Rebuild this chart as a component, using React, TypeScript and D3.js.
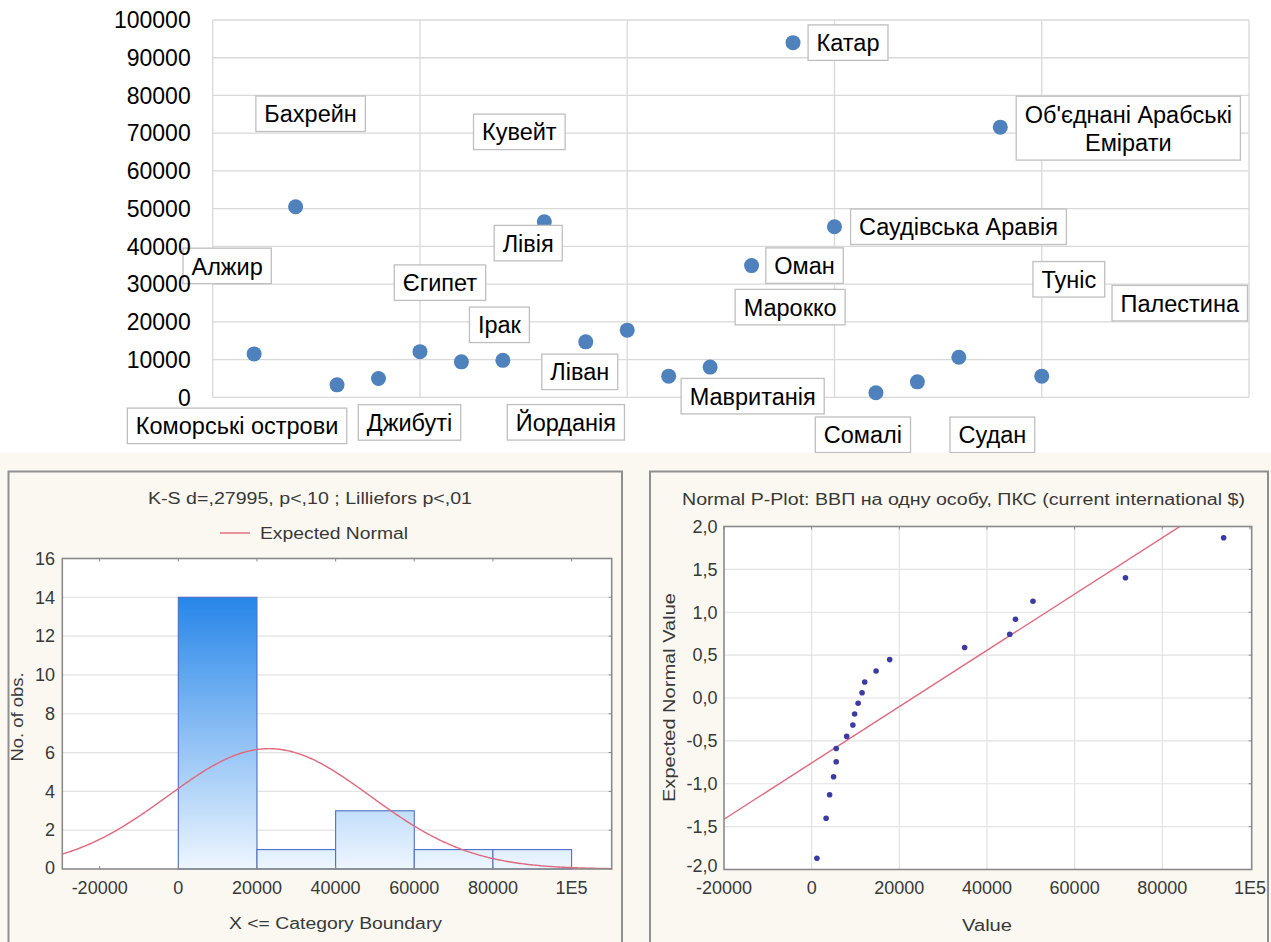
import React, { useEffect, useRef } from "react";
import * as d3 from "d3";

// ---------- DATA ----------
const countries = [
  "Алжир", "Бахрейн", "Коморські острови", "Джибуті", "Єгипет", "Ірак", "Йорданія",
  "Кувейт", "Ліван", "Лівія", "Мавританія", "Марокко", "Оман", "Катар",
  "Саудівська Аравія", "Сомалі", "Судан", "Туніс", "Об'єднані Арабські\nЕмірати", "Палестина",
];
const gdpPerCapita = [
  11500, 50500, 3300, 5000, 12100, 9400, 9800, 46500, 14700, 17800,
  5600, 8000, 34900, 94000, 45200, 1200, 4100, 10600, 71600, 5600,
];
const topYTicks = [0, 10000, 20000, 30000, 40000, 50000, 60000, 70000, 80000, 90000, 100000];
const topXGrid = [0, 5, 10, 15, 20, 25];

const histEdges = [0, 20000, 40000, 60000, 80000, 100000];
const histXTicks = [-20000, 0, 20000, 40000, 60000, 80000, 100000];
const xTickLabels = ["-20000", "0", "20000", "40000", "60000", "80000", "1E5"];
const histYTicks = [0, 2, 4, 6, 8, 10, 12, 14, 16];

const ppYTicks = [-2, -1.5, -1, -0.5, 0, 0.5, 1, 1.5, 2];
const ppYTickLabels = ["-2,0", "-1,5", "-1,0", "-0,5", "0,0", "0,5", "1,0", "1,5", "2,0"];
const expectedNormal = [
  -1.868, -1.403, -1.128, -0.919, -0.744, -0.589, -0.448, -0.315, -0.187, -0.062,
  0.062, 0.187, 0.315, 0.448, 0.589, 0.744, 0.919, 1.128, 1.403, 1.868,
];

// label box centre offsets from their point (px), as dragged in the original
const labelOffsets: [number, number][] = [
  [-27, -88], [15, -93], [-100, 41], [31, 44], [20, -69], [38, -37], [63, 62],
  [-25, -90], [-6, 30], [-99, -87], [84, 20], [80, -60], [53, 0], [55, 0],
  [124, 0], [-13, 42], [75, 53], [110, -78], [128, 1], [138, -73],
];

const FONT = "'Liberation Sans', Arial, Helvetica, sans-serif";
const STAT_TXT = "#383838";

export default function App() {
  const ref = useRef<SVGSVGElement>(null);

  useEffect(() => {
    const svg = d3.select(ref.current!);
    svg.selectAll("*").remove();

    // ================= TOP SCATTER =================
    const xT = d3.scaleLinear().domain([0, 25]).range([212.7, 1249]);
    const yT = d3.scaleLinear().domain([0, 100000]).range([397.3, 20]);
    const gTop = svg.append("g");

    gTop.selectAll("line.h").data(topYTicks).join("line")
      .attr("x1", xT(0)).attr("x2", xT(25))
      .attr("y1", (d) => yT(d)).attr("y2", (d) => yT(d))
      .attr("stroke", "#d9d9d9").attr("stroke-width", 1.3);
    gTop.selectAll("line.v").data(topXGrid).join("line")
      .attr("x1", (d) => xT(d)).attr("x2", (d) => xT(d))
      .attr("y1", yT(0)).attr("y2", yT(100000))
      .attr("stroke", "#d9d9d9").attr("stroke-width", 1.3);

    gTop.append("g").selectAll("circle").data(gdpPerCapita).join("circle")
      .attr("cx", (_d, i) => xT(i + 1)).attr("cy", (d) => yT(d))
      .attr("r", 7.5).attr("fill", "#4f81bd");

    countries.forEach((name, i) => {
      const [dx, dy] = labelOffsets[i];
      const cx = xT(i + 1) + dx;
      const cy = yT(gdpPerCapita[i]) + dy;
      const lines = name.split("\n");
      const g = gTop.append("g");
      const rect = g.append("rect");
      const texts = lines.map((ln, k) =>
        g.append("text")
          .attr("x", cx)
          .attr("y", cy + 8.6 - ((lines.length - 1) * 28.4) / 2 + k * 28.4)
          .attr("text-anchor", "middle")
          .attr("font-family", FONT).attr("font-size", 23.5).attr("fill", "#000")
          .text(ln)
      );
      const w = d3.max(texts, (t) => (t.node() as SVGTextElement).getComputedTextLength()) || 0;
      const h = 35.5 + (lines.length - 1) * 28.4;
      rect.attr("x", cx - w / 2 - 8.5).attr("y", cy - h / 2)
        .attr("width", w + 17).attr("height", h)
        .attr("fill", "#fff").attr("stroke", "#bfbfbf").attr("stroke-width", 1.3);
    });

    gTop.append("g").selectAll("text").data(topYTicks).join("text")
      .attr("x", 190.7).attr("y", (d) => yT(d) + 8.3)
      .attr("text-anchor", "end")
      .attr("font-family", FONT).attr("font-size", 23).attr("fill", "#000")
      .text((d) => String(d));

    // ================= BOTTOM BACKGROUND =================
    svg.append("rect").attr("x", 0).attr("y", 453).attr("width", 1271).attr("height", 489)
      .attr("fill", "#fbf8f2");

    const defs = svg.append("defs");

    // ================= HISTOGRAM =================
    const xH = d3.scaleLinear().domain([-29500, 110200]).range([62.3, 611.7]);
    const yH = d3.scaleLinear().domain([0, 16]).range([869, 558.5]);
    const gH = svg.append("g");

    gH.append("rect").attr("x", 8.5).attr("y", 471.5).attr("width", 613.5).attr("height", 490)
      .attr("fill", "#fbf8f2").attr("stroke", "#8f8f8f").attr("stroke-width", 2);

    gH.append("rect").attr("x", xH.range()[0]).attr("y", yH(16))
      .attr("width", xH.range()[1] - xH.range()[0]).attr("height", yH(0) - yH(16))
      .attr("fill", "#fff");

    gH.selectAll("line.hg").data(histYTicks.slice(1, -1)).join("line")
      .attr("x1", xH.range()[0]).attr("x2", xH.range()[1])
      .attr("y1", (d) => yH(d)).attr("y2", (d) => yH(d))
      .attr("stroke", "#e2e2e2").attr("stroke-width", 1.2);

    const grad = defs.append("linearGradient").attr("id", "barGrad")
      .attr("gradientUnits", "userSpaceOnUse")
      .attr("x1", 0).attr("x2", 0).attr("y1", yH(16)).attr("y2", yH(0));
    grad.append("stop").attr("offset", "0%").attr("stop-color", "#0a76e6");
    grad.append("stop").attr("offset", "100%").attr("stop-color", "#eef6ff");

    const bins = d3.bin<number, number>()
      .domain([histEdges[0], histEdges[histEdges.length - 1]])
      .thresholds(histEdges.slice(1, -1))(gdpPerCapita);

    gH.selectAll("rect.bar").data(bins).join("rect")
      .attr("x", (b) => xH(b.x0!)).attr("width", (b) => xH(b.x1!) - xH(b.x0!))
      .attr("y", (b) => yH(b.length)).attr("height", (b) => yH(0) - yH(b.length))
      .attr("fill", "url(#barGrad)").attr("stroke", "#4d6fc6").attr("stroke-width", 1.1);

    const mean = d3.mean(gdpPerCapita)!;
    const sd = d3.deviation(gdpPerCapita)!;
    const binW = histEdges[1] - histEdges[0];
    const nObs = gdpPerCapita.length;
    const dens = (x: number) =>
      (nObs * binW) / (sd * Math.sqrt(2 * Math.PI)) * Math.exp(-0.5 * ((x - mean) / sd) ** 2);
    const [hx0, hx1] = xH.domain();
    const curveXs = d3.range(hx0, hx1 + 1, 400);
    defs.append("clipPath").attr("id", "clipH").append("rect")
      .attr("x", xH.range()[0]).attr("y", yH(16))
      .attr("width", xH.range()[1] - xH.range()[0]).attr("height", yH(0) - yH(16));
    gH.append("path").datum(curveXs)
      .attr("clip-path", "url(#clipH)")
      .attr("d", d3.line<number>().x((d) => xH(d)).y((d) => yH(dens(d))).curve(d3.curveLinear))
      .attr("fill", "none").attr("stroke", "#e0687c").attr("stroke-width", 1.4);

    gH.append("rect").attr("x", xH.range()[0]).attr("y", yH(16))
      .attr("width", xH.range()[1] - xH.range()[0]).attr("height", yH(0) - yH(16))
      .attr("fill", "none").attr("stroke", "#8a8a8a").attr("stroke-width", 1.6);

    // small inward ticks
    gH.selectAll("line.tt").data(histXTicks).join("line")
      .attr("x1", (d) => xH(d)).attr("x2", (d) => xH(d))
      .attr("y1", yH(16)).attr("y2", yH(16) + 3).attr("stroke", "#8a8a8a");
    gH.selectAll("line.bt").data(histXTicks).join("line")
      .attr("x1", (d) => xH(d)).attr("x2", (d) => xH(d))
      .attr("y1", yH(0)).attr("y2", yH(0) - 3).attr("stroke", "#8a8a8a");
    gH.selectAll("line.rt").data(histYTicks).join("line")
      .attr("x1", xH.range()[1]).attr("x2", xH.range()[1] - 3)
      .attr("y1", (d) => yH(d)).attr("y2", (d) => yH(d)).attr("stroke", "#8a8a8a");

    gH.selectAll("text.yt").data(histYTicks).join("text")
      .attr("x", 55).attr("y", (d) => yH(d) + (d === 0 ? 4.5 : 6.3)).attr("text-anchor", "end")
      .attr("font-family", FONT).attr("font-size", 18).attr("fill", STAT_TXT)
      .text((d) => String(d));
    gH.selectAll("text.xt").data(histXTicks).join("text")
      .attr("x", (d) => xH(d)).attr("y", 894).attr("text-anchor", "middle")
      .attr("font-family", FONT).attr("font-size", 18).attr("fill", STAT_TXT)
      .text((_d, i) => xTickLabels[i]);

    gH.append("text").attr("x", 310).attr("y", 503.5).attr("text-anchor", "middle")
      .attr("font-family", FONT).attr("font-size", 16).attr("fill", STAT_TXT)
      .attr("textLength", 324).attr("lengthAdjust", "spacingAndGlyphs")
      .text("K-S d=,27995, p<,10 ; Lilliefors p<,01");
    gH.append("line").attr("x1", 220).attr("x2", 250).attr("y1", 533).attr("y2", 533)
      .attr("stroke", "#e0687c").attr("stroke-width", 1.4);
    gH.append("text").attr("x", 260).attr("y", 538.5).attr("text-anchor", "start")
      .attr("font-family", FONT).attr("font-size", 16).attr("fill", STAT_TXT)
      .attr("textLength", 148).attr("lengthAdjust", "spacingAndGlyphs")
      .text("Expected Normal");
    gH.append("text").attr("x", 335.5).attr("y", 928.5).attr("text-anchor", "middle")
      .attr("font-family", FONT).attr("font-size", 16).attr("fill", STAT_TXT)
      .attr("textLength", 213).attr("lengthAdjust", "spacingAndGlyphs")
      .text("X <= Category Boundary");
    gH.append("text").attr("transform", "translate(22.5,717) rotate(-90)")
      .attr("text-anchor", "middle")
      .attr("font-family", FONT).attr("font-size", 16).attr("fill", STAT_TXT)
      .attr("textLength", 89).attr("lengthAdjust", "spacingAndGlyphs")
      .text("No. of obs.");

    // ================= NORMAL P-PLOT =================
    const xP = d3.scaleLinear().domain([-20000, 100400]).range([724, 1251.7]);
    const yP = d3.scaleLinear().domain([-2, 2]).range([869.5, 526.5]);
    const gP = svg.append("g");

    gP.append("rect").attr("x", 650).attr("y", 471.5).attr("width", 618).attr("height", 490)
      .attr("fill", "#fbf8f2").attr("stroke", "#8f8f8f").attr("stroke-width", 2);
    gP.append("rect").attr("x", xP.range()[0]).attr("y", yP(2))
      .attr("width", xP.range()[1] - xP.range()[0]).attr("height", yP(-2) - yP(2))
      .attr("fill", "#fff");

    gP.selectAll("line.hg").data(ppYTicks.slice(1, -1)).join("line")
      .attr("x1", xP.range()[0]).attr("x2", xP.range()[1])
      .attr("y1", (d) => yP(d)).attr("y2", (d) => yP(d))
      .attr("stroke", "#e2e2e2").attr("stroke-width", 1.2);
    gP.selectAll("line.vg").data(histXTicks.slice(1, -1)).join("line")
      .attr("x1", (d) => xP(d)).attr("x2", (d) => xP(d))
      .attr("y1", yP(-2)).attr("y2", yP(2))
      .attr("stroke", "#e2e2e2").attr("stroke-width", 1.2);

    const sorted = gdpPerCapita.slice().sort(d3.ascending);
    const mx = d3.mean(sorted)!;
    const mz = d3.mean(expectedNormal)!;
    const sxz = d3.sum(sorted, (x, i) => (x - mx) * (expectedNormal[i] - mz));
    const sxx = d3.sum(sorted, (x) => (x - mx) ** 2);
    const slope = sxz / sxx;
    const lineZ = (x: number) => mz + slope * (x - mx);

    defs.append("clipPath").attr("id", "clipP").append("rect")
      .attr("x", xP.range()[0]).attr("y", yP(2))
      .attr("width", xP.range()[1] - xP.range()[0]).attr("height", yP(-2) - yP(2));
    const [px0, px1] = xP.domain();
    gP.append("line").attr("clip-path", "url(#clipP)")
      .attr("x1", xP(px0)).attr("y1", yP(lineZ(px0)))
      .attr("x2", xP(px1)).attr("y2", yP(lineZ(px1)))
      .attr("stroke", "#e0687c").attr("stroke-width", 1.4);

    gP.selectAll("circle").data(sorted).join("circle")
      .attr("cx", (d) => xP(d)).attr("cy", (_d, i) => yP(expectedNormal[i]))
      .attr("r", 2.8).attr("fill", "#3b3ba4");

    gP.append("rect").attr("x", xP.range()[0]).attr("y", yP(2))
      .attr("width", xP.range()[1] - xP.range()[0]).attr("height", yP(-2) - yP(2))
      .attr("fill", "none").attr("stroke", "#8a8a8a").attr("stroke-width", 1.6);
    gP.selectAll("line.rt").data(ppYTicks).join("line")
      .attr("x1", xP.range()[1]).attr("x2", xP.range()[1] - 3)
      .attr("y1", (d) => yP(d)).attr("y2", (d) => yP(d)).attr("stroke", "#8a8a8a");
    gP.selectAll("line.tt").data(histXTicks).join("line")
      .attr("x1", (d) => xP(d)).attr("x2", (d) => xP(d))
      .attr("y1", yP(2)).attr("y2", yP(2) + 3).attr("stroke", "#8a8a8a");

    gP.selectAll("text.yt").data(ppYTicks).join("text")
      .attr("x", 717.5).attr("y", (d) => yP(d) + (d === -2 ? 2.5 : 6.3)).attr("text-anchor", "end")
      .attr("font-family", FONT).attr("font-size", 18).attr("fill", STAT_TXT)
      .text((_d, i) => ppYTickLabels[i]);
    gP.selectAll("text.xt").data(histXTicks).join("text")
      .attr("x", (d) => xP(d)).attr("y", 894).attr("text-anchor", "middle")
      .attr("font-family", FONT).attr("font-size", 18).attr("fill", STAT_TXT)
      .text((_d, i) => xTickLabels[i]);

    gP.append("text").attr("x", 963.5).attr("y", 504.5).attr("text-anchor", "middle")
      .attr("font-family", FONT).attr("font-size", 16).attr("fill", STAT_TXT)
      .attr("textLength", 563).attr("lengthAdjust", "spacingAndGlyphs")
      .text("Normal P-Plot: ВВП на одну особу, ПКС (current international $)");
    gP.append("text").attr("x", 987).attr("y", 931).attr("text-anchor", "middle")
      .attr("font-family", FONT).attr("font-size", 16).attr("fill", STAT_TXT)
      .attr("textLength", 50).attr("lengthAdjust", "spacingAndGlyphs")
      .text("Value");
    gP.append("text").attr("transform", "translate(675,697.5) rotate(-90)")
      .attr("text-anchor", "middle")
      .attr("font-family", FONT).attr("font-size", 16).attr("fill", STAT_TXT)
      .attr("textLength", 209).attr("lengthAdjust", "spacingAndGlyphs")
      .text("Expected Normal Value");
  }, []);

  return (
    <div style={{ position: "absolute", left: 0, top: 0, width: 1271, height: 942, overflow: "hidden", background: "#fff" }}>
      <svg ref={ref} width={1271} height={942} style={{ display: "block" }} />
    </div>
  );
}
